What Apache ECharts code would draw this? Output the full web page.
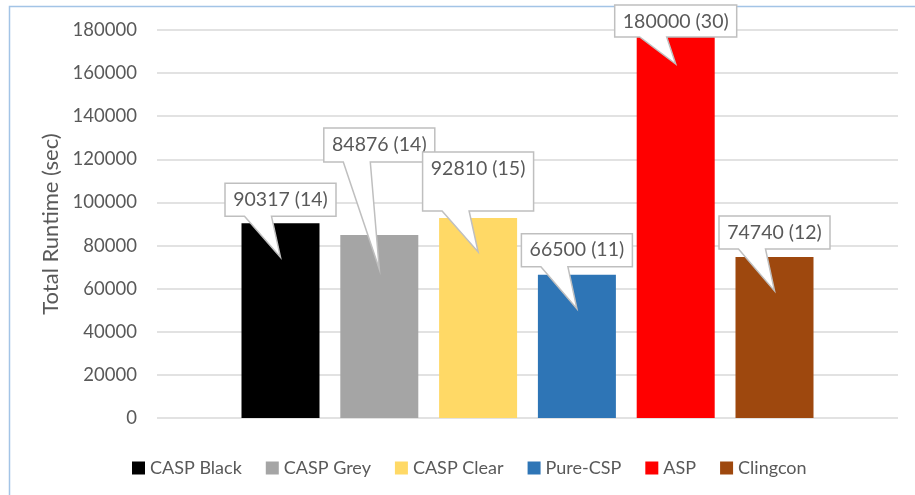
<!DOCTYPE html>
<html>
<head>
<meta charset="utf-8">
<script src="https://cdn.jsdelivr.net/npm/echarts@6/dist/echarts.min.js"></script>
<style>
  html, body { margin: 0; padding: 0; background: #fff; }
  #chart { width: 915px; height: 495px; }
</style>
</head>
<body>
<div id="chart"></div>
<script>
// ---- data ----
const categories = ['CASP Black', 'CASP Grey', 'CASP Clear', 'Pure-CSP', 'ASP', 'Clingcon'];
const runtimes = [90317, 84876, 92810, 66500, 180000, 74740];
const solvedCounts = [14, 14, 15, 11, 30, 12];
const yTickValues = [0, 20000, 40000, 60000, 80000, 100000, 120000, 140000, 160000, 180000];

// ---- styles / layout ----
const colors = ['#000000', '#a5a5a5', '#ffd966', '#2e75b6', '#ff0000', '#9e480e'];
const FONT = 'Lato, "Liberation Sans", sans-serif';
const TEXT_COLOR = '#595959';
const LABEL_SIZE = 19.5;
// callout geometry (pixels): gap between bar top and box bottom, box height
const calloutGap = [7, 73, 7, 8, -7, 8];
const calloutHeight = [33, 34, 59, 33, 32, 33];
const TIP_DEPTH = 34;

const measureCtx = document.createElement('canvas').getContext('2d');
function textWidth(t) {
  measureCtx.font = LABEL_SIZE + 'px ' + FONT;
  return measureCtx.measureText(t).width;
}

const chart = echarts.init(document.getElementById('chart'), null, { renderer: 'canvas' });

const barSeries = categories.map((name, i) => ({
  type: 'bar',
  name: name,
  data: [[i, runtimes[i]]],
  barWidth: 78,
  barGap: '-100%',
  itemStyle: { color: colors[i] },
  emphasis: { disabled: true },
  z: 2
}));

const calloutSeries = {
  type: 'custom',
  data: categories.map((n, i) => [i, runtimes[i], solvedCounts[i]]),
  clip: false,
  z: 5,
  silent: true,
  renderItem: function (params, api) {
    const i = params.dataIndex;
    const top = api.coord([api.value(0), api.value(1)]);
    const cx = top[0];
    const label = runtimes[i] + ' (' + solvedCounts[i] + ')';
    const w = Math.round(textWidth(label)) + 16;
    const L = cx - w / 2, R = cx + w / 2;
    const B = top[1] - calloutGap[i];
    const T = B - calloutHeight[i];
    const tipY = top[1] + TIP_DEPTH;
    return {
      type: 'group',
      children: [
        {
          type: 'polygon',
          shape: {
            points: [[L, T], [R, T], [R, B], [cx - 9, B], [cx, tipY], [cx - 36, B], [L, B]]
          },
          style: { fill: '#ffffff', stroke: '#bfbfbf', lineWidth: 1.5 }
        },
        {
          type: 'text',
          style: {
            text: label,
            x: cx,
            y: T + 16.5,
            align: 'center',
            verticalAlign: 'middle',
            fontSize: LABEL_SIZE,
            fontFamily: FONT,
            fill: TEXT_COLOR
          }
        }
      ]
    };
  }
};

chart.setOption({
  animation: false,
  backgroundColor: '#ffffff',
  textStyle: { fontFamily: FONT },
  graphic: [{
    type: 'rect',
    left: 7, top: 4,
    shape: { width: 930, height: 520 },
    style: { fill: 'none', stroke: '#a3c4e6', lineWidth: 1.5 },
    silent: true, z: -1
  }],
  grid: { left: 157, right: 17, top: 30, bottom: 77 },
  legend: {
    data: categories,
    left: 127,
    top: 454,
    icon: 'rect',
    itemWidth: 13,
    itemHeight: 13,
    itemGap: 24,
    selectedMode: false,
    textStyle: { fontSize: 18, color: TEXT_COLOR, fontFamily: FONT }
  },
  xAxis: {
    type: 'value',
    min: -1.25,
    max: 6.25,
    show: false
  },
  yAxis: {
    type: 'value',
    min: yTickValues[0],
    max: yTickValues[yTickValues.length - 1],
    interval: yTickValues[1] - yTickValues[0],
    name: 'Total Runtime (sec)',
    nameLocation: 'middle',
    nameRotate: 90,
    nameGap: 92,
    nameTextStyle: { fontSize: 22, color: TEXT_COLOR, fontFamily: FONT },
    axisLine: { show: false },
    axisTick: { show: false },
    axisLabel: {
      fontSize: 18.5, color: TEXT_COLOR, margin: 20, fontFamily: FONT,
      formatter: function (v) { return String(v); }
    },
    splitLine: { lineStyle: { color: '#d9d9d9', width: 1.5 } }
  },
  series: barSeries.concat([calloutSeries])
});
</script>
</body>
</html>
